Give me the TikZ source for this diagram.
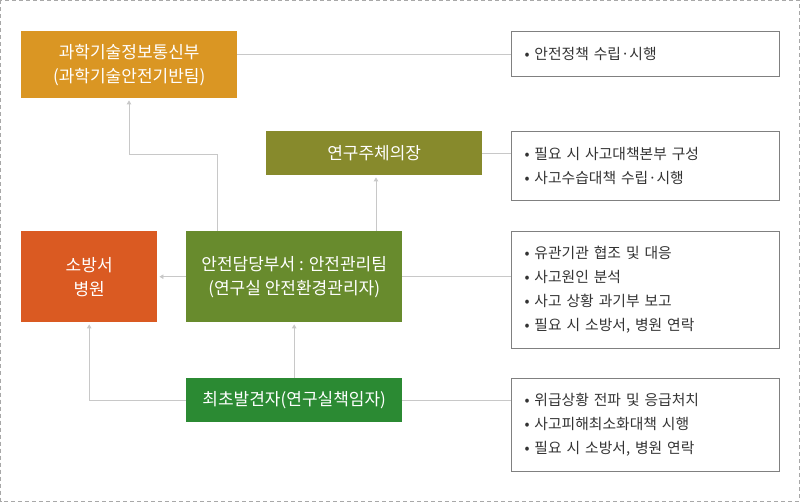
\documentclass[tikz,border=0pt]{standalone}
\usepackage{fontspec}
\newfontfamily\kr{Noto Sans CJK KR}
\usetikzlibrary{arrows.meta}

\definecolor{govorange}{HTML}{DA9623}
\definecolor{chiefolive}{HTML}{878A2C}
\definecolor{firered}{HTML}{DA5A22}
\definecolor{deptgreen}{HTML}{688B2D}
\definecolor{findergreen}{HTML}{2B8A33}
\definecolor{linkgray}{HTML}{C8C8C8}
\definecolor{dutyline}{HTML}{808080}
\definecolor{dutytext}{HTML}{333333}
\definecolor{framegray}{HTML}{A8A8A8}

\tikzset{
    unit/.style={fill=#1, text=white, font=\kr\fontsize{17}{24}\selectfont,
        align=center, inner sep=0pt, anchor=north west},
    duty/.style={draw=dutyline, line width=1pt, text=dutytext,
        font=\kr\fontsize{14.8}{24}\selectfont, align=left, text width=242pt,
        inner xsep=13pt, inner ysep=0pt, minimum width=268pt, anchor=north west},
    link/.style={draw=linkgray, line width=0.8pt},
    feed/.style={link, -{Triangle[length=4pt,width=4.5pt]}, shorten >=2pt},
}

\begin{document}
\begin{tikzpicture}[x=1pt, y=-1pt]
        \useasboundingbox (0,0) rectangle (800,502);
        \draw[framegray, dash pattern=on 4pt off 3pt] (0.5,0.5) rectangle (799,501);

        % organisation
        \node[unit=govorange, minimum width=216pt, minimum height=67pt] (gov) at (21,31)
            {과학기술정보통신부\\(과학기술안전기반팀)};
        \node[unit=chiefolive, minimum width=216pt, minimum height=44pt] (chief) at (266,131) {연구주체의장};
        \node[unit=firered, minimum width=136pt, minimum height=91pt] (fire) at (21,231) {소방서\\병원};
        \node[unit=deptgreen, minimum width=216pt, minimum height=91pt] (dept) at (186,231)
            {안전담당부서 : 안전관리팀\\(연구실 안전환경관리자)};
        \node[unit=findergreen, minimum width=216pt, minimum height=44pt] (finder) at (186,378)
            {최초발견자(연구실책임자)};

        % duties
        \node[duty, minimum height=45pt] (govduty) at (511,31) {• 안전정책 수립·시행};
        \node[duty, minimum height=69pt] (chiefduty) at (511,131)
            {• 필요 시 사고대책본부 구성\\• 사고수습대책 수립·시행};
        \node[duty, minimum height=117pt] (deptduty) at (511,231)
            {• 유관기관 협조 및 대응\\• 사고원인 분석\\• 사고 상황 과기부 보고\\• 필요 시 소방서, 병원 연락};
        \node[duty, minimum height=93pt] (finderduty) at (511,378)
            {• 위급상황 전파 및 응급처치\\• 사고피해최소화대책 시행\\• 필요 시 소방서, 병원 연락};

        \draw[link] (govduty.west -| gov.east) -- (govduty.west);
        \draw[link] (chief.east) -- (chief.east -| chiefduty.west);
        \draw[link] (dept.east) -- (dept.east -| deptduty.west);
        \draw[link] (finder.east) -- (finder.east -| finderduty.west);

        % reporting lines
        \draw[feed] ([xshift=31pt]dept.north west) -- ++(0,-77) -| ([xshift=108pt]gov.south west);
        \draw[feed] ([xshift=190pt]dept.north west) -- ([xshift=190pt]dept.north west |- chief.south);
        \draw[feed] (dept.west) -- (dept.west -| fire.east);
        \draw[feed] (finder.north) -- (dept.south);
        \draw[feed] (finder.west) -| (fire.south);
    \end{tikzpicture}
\end{document}
